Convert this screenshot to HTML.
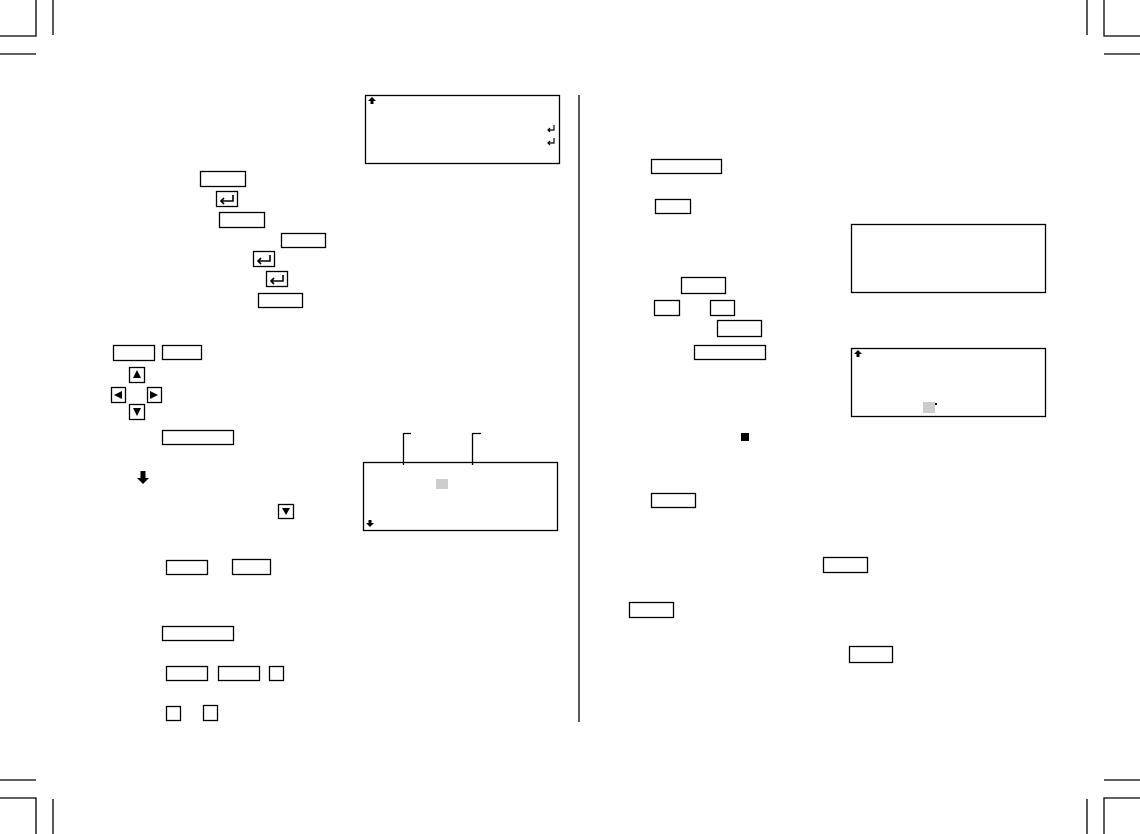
<!DOCTYPE html>
<html><head><meta charset="utf-8"><style>html,body{margin:0;padding:0;background:#fff}svg{display:block}</style></head>
<body>
<svg width="1140" height="834" viewBox="0 0 1140 834" xmlns="http://www.w3.org/2000/svg">
<g fill="none" stroke="#000" stroke-width="1.3">
<!-- crop marks -->
<path d="M36 0V36H0 M53 0V35 M0 54H36"/>
<path d="M1104 0V36H1140 M1087 0V35 M1140 54H1104"/>
<path d="M36 834V798H0 M53 834V799 M0 780H36"/>
<path d="M1104 834V798H1140 M1087 834V799 M1140 780H1104"/>
<!-- divider -->
<path d="M579 95V722"/>
<!-- left LCDs -->
<rect x="365.5" y="95.5" width="194" height="68"/>
<rect x="363.5" y="462.5" width="194" height="68"/>
<path d="M403.5 433V465 M403.5 433.5H411 M472.5 433V465 M472.5 433.5H481"/>
<!-- left keys -->
<rect x="200.5" y="171.5" width="45" height="15"/>
<rect x="216.5" y="191.5" width="21" height="15"/>
<rect x="219.5" y="212.5" width="45" height="15"/>
<rect x="281.5" y="233.5" width="44" height="14"/>
<rect x="253.5" y="251.5" width="21" height="15"/>
<rect x="266.5" y="271.5" width="21" height="15"/>
<rect x="258.5" y="293.5" width="44" height="14"/>
<rect x="113.5" y="345.5" width="41" height="15"/>
<rect x="162.5" y="345.5" width="39" height="14"/>
<rect x="129.5" y="367.5" width="15" height="15"/>
<rect x="111.5" y="387.5" width="14" height="15"/>
<rect x="147.5" y="387.5" width="14" height="15"/>
<rect x="129.5" y="404.5" width="15" height="15"/>
<rect x="162.5" y="430.5" width="71" height="14"/>
<rect x="278.5" y="504.5" width="15" height="14"/>
<rect x="166.5" y="560.5" width="41" height="14"/>
<rect x="232.5" y="559.5" width="38" height="15"/>
<rect x="162.5" y="626.5" width="71" height="14"/>
<rect x="166.5" y="666.5" width="41" height="14"/>
<rect x="218.5" y="666.5" width="41" height="14"/>
<rect x="269.5" y="666.5" width="14" height="14"/>
<rect x="166.5" y="706.5" width="14" height="14"/>
<rect x="203.5" y="705.5" width="14" height="15"/>
<!-- right -->
<rect x="851.5" y="224.5" width="194" height="68"/>
<rect x="851.5" y="348.5" width="194" height="68"/>
<rect x="651.5" y="159.5" width="70" height="14"/>
<rect x="655.5" y="199.5" width="35" height="14"/>
<rect x="681.5" y="277.5" width="44" height="16"/>
<rect x="654.5" y="300.5" width="25" height="15"/>
<rect x="710.5" y="300.5" width="24" height="15"/>
<rect x="717.5" y="320.5" width="44" height="16"/>
<rect x="694.5" y="345.5" width="71" height="14"/>
<rect x="651.5" y="493.5" width="44" height="14"/>
<rect x="823.5" y="557.5" width="44" height="15"/>
<rect x="629.5" y="602.5" width="44" height="15"/>
<rect x="849.5" y="646.5" width="43" height="16"/>
<!-- enter glyphs in keys -->
<path d="M233 195V201H221 M224 198L221 201L224 204" stroke-width="1.6"/>
<path d="M270 255V261H258 M261 258L258 261L261 264" stroke-width="1.6"/>
<path d="M283 275V281H271 M274 278L271 281L274 284" stroke-width="1.6"/>
<!-- return marks in LCD -->
<path d="M554 125V130H548 M550 128L548 130L550 132 M554 138V143H548 M550 141L548 143L550 145" stroke-width="1.2"/>
</g>
<g fill="#000">
<!-- arrow glyphs in keys -->
<polygon points="137,370 133,378 141,378"/>
<polygon points="114,395 122,391 122,399"/>
<polygon points="158,395 150,391 150,399"/>
<polygon points="137,416 133,408 141,408"/>
<polygon points="286,515 282,508 290,508"/>
<!-- up arrows -->
<polygon points="372,97 368,101 370.5,101 370.5,104 373.5,104 373.5,101 376,101"/>
<polygon points="858,350 854,354 856.5,354 856.5,357 859.5,357 859.5,354 862,354"/>
<!-- down arrows -->
<polygon points="143,484 137,478 140.5,478 140.5,471 145.5,471 145.5,478 149,478"/>
<polygon points="370,527 366,523 368.5,523 368.5,520 371.5,520 371.5,523 374,523"/>
<rect x="741" y="433" width="8" height="8"/>
<rect x="935" y="403" width="2" height="2"/>
</g>
<g fill="#cccccc">
<rect x="436" y="479" width="12" height="10"/>
<rect x="923" y="402" width="12" height="11"/>
</g>
</svg>
</body></html>
